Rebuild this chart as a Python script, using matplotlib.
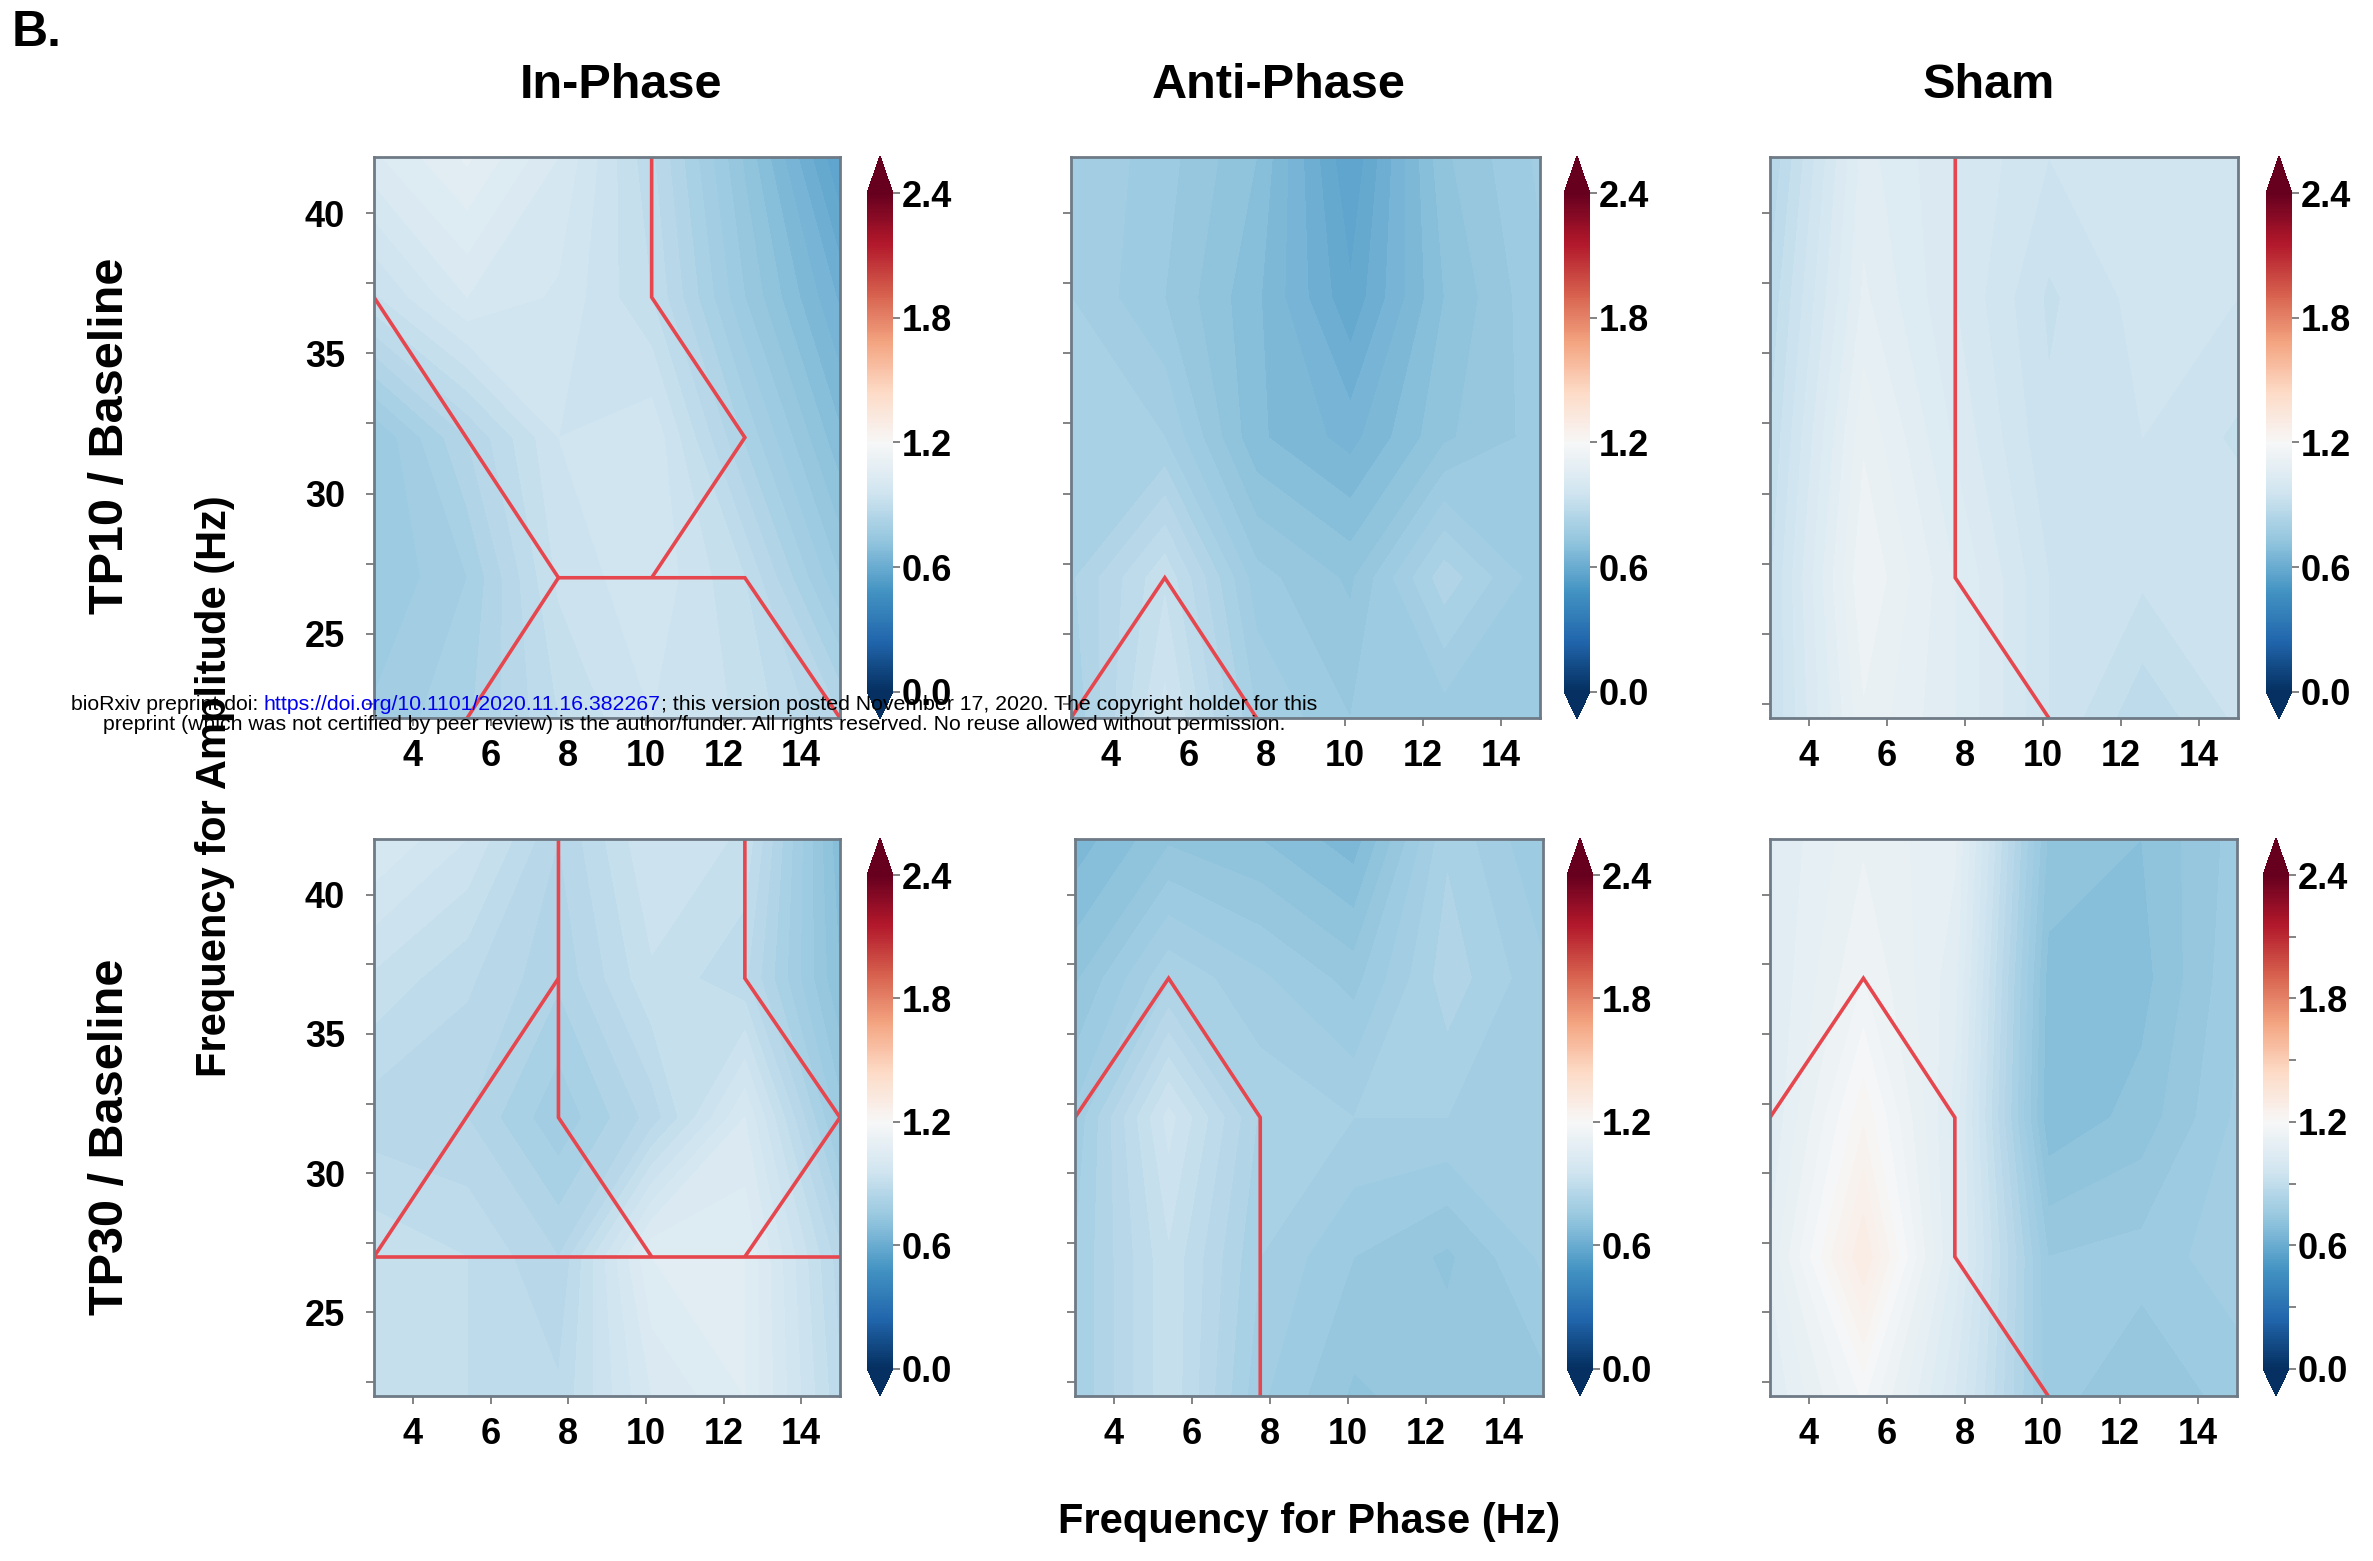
import numpy as np
import matplotlib
matplotlib.use("Agg")
import matplotlib.pyplot as plt
from matplotlib.cm import ScalarMappable
from matplotlib.colors import Normalize
from matplotlib.ticker import MultipleLocator, FormatStrFormatter

plt.rcParams['font.family'] = ['Liberation Sans', 'DejaVu Sans']
plt.rcParams['font.weight'] = 'bold'

# ---------------- data ----------------
phase_freqs = [3, 5.4, 7.75, 10.15, 12.55, 15]
amp_freqs = [22, 27, 32, 37, 42]

col_titles = ["In-Phase", "Anti-Phase", "Sham"]
row_titles = ["TP10 / Baseline", "TP30 / Baseline"]

# rows follow amp_freqs (22 -> 42), columns follow phase_freqs
in_phase_tp10 = [
    [0.78, 0.82, 0.90, 0.95, 0.92, 0.85],
    [0.75, 0.80, 0.93, 0.97, 0.90, 0.75],
    [0.75, 0.85, 0.95, 0.97, 0.82, 0.68],
    [0.92, 1.00, 0.97, 0.90, 0.75, 0.62],
    [1.02, 1.08, 1.00, 0.88, 0.72, 0.55],
]
anti_phase_tp10 = [
    [0.80, 0.96, 0.80, 0.75, 0.76, 0.76],
    [0.82, 0.92, 0.76, 0.72, 0.84, 0.76],
    [0.80, 0.80, 0.68, 0.64, 0.72, 0.76],
    [0.80, 0.75, 0.68, 0.58, 0.70, 0.77],
    [0.80, 0.76, 0.70, 0.55, 0.72, 0.78],
]
sham_tp10 = [
    [0.92, 1.12, 1.05, 0.95, 0.88, 0.93],
    [0.92, 1.15, 1.05, 0.95, 0.93, 0.95],
    [0.90, 1.12, 1.02, 0.93, 0.95, 0.92],
    [0.88, 1.08, 1.00, 0.92, 0.96, 0.95],
    [0.85, 1.06, 1.00, 0.95, 0.96, 0.96],
]
in_phase_tp30 = [
    [0.92, 0.90, 0.88, 1.00, 1.05, 0.88],
    [0.92, 0.90, 0.85, 1.05, 1.05, 0.86],
    [0.86, 0.85, 0.78, 0.86, 1.00, 0.76],
    [0.92, 0.88, 0.83, 0.92, 0.88, 0.70],
    [1.00, 0.95, 0.85, 0.95, 0.92, 0.68],
]
anti_phase_tp30 = [
    [0.80, 0.92, 0.78, 0.72, 0.74, 0.74],
    [0.80, 0.92, 0.80, 0.75, 0.72, 0.78],
    [0.78, 0.96, 0.82, 0.80, 0.80, 0.78],
    [0.72, 0.82, 0.78, 0.74, 0.84, 0.78],
    [0.66, 0.72, 0.70, 0.66, 0.82, 0.75],
]
sham_tp30 = [
    [1.05, 1.18, 1.00, 0.76, 0.73, 0.76],
    [1.08, 1.30, 1.04, 0.75, 0.76, 0.79],
    [1.05, 1.22, 1.04, 0.68, 0.71, 0.78],
    [1.05, 1.15, 1.06, 0.69, 0.69, 0.77],
    [1.05, 1.12, 1.08, 0.72, 0.70, 0.76],
]

# significance cluster outlines (x = phase Hz, y = amplitude Hz)
outline_in_tp10 = [
    [(3, 37), (7.75, 27), (12.55, 27), (15, 22)],
    [(7.75, 27), (5.4, 22)],
    [(10.15, 42), (10.15, 37), (12.55, 32), (10.15, 27)],
]
outline_anti_tp10 = [
    [(3, 22), (5.4, 27), (7.75, 22)],
]
outline_sham_tp10 = [
    [(7.75, 42), (7.75, 27), (10.15, 22)],
]
outline_in_tp30 = [
    [(3, 27), (15, 27)],
    [(3, 27), (7.75, 37)],
    [(7.75, 42), (7.75, 32), (10.15, 27)],
    [(12.55, 42), (12.55, 37), (15, 32), (12.55, 27)],
]
outline_anti_tp30 = [
    [(3, 32), (5.4, 37), (7.75, 32), (7.75, 22)],
]
outline_sham_tp30 = [
    [(3, 32), (5.4, 37), (7.75, 32), (7.75, 27), (10.15, 22)],
]

panels = [[in_phase_tp10, anti_phase_tp10, sham_tp10],
          [in_phase_tp30, anti_phase_tp30, sham_tp30]]
outlines = [[outline_in_tp10, outline_anti_tp10, outline_sham_tp10],
            [outline_in_tp30, outline_anti_tp30, outline_sham_tp30]]

cbar_ticks = [0.0, 0.6, 1.2, 1.8, 2.4]
x_ticks = [4, 6, 8, 10, 12, 14]
y_ticks = [25, 30, 35, 40]

wm_a = "bioRxiv preprint doi:"
wm_url = "https://doi.org/10.1101/2020.11.16.382267"
wm_b = "; this version posted November 17, 2020. The copyright holder for this"
wm_line2 = "preprint (which was not certified by peer review) is the author/funder. All rights reserved. No reuse allowed without permission."

# ---------------- layout ----------------
W, H = 2373, 1561
fig = plt.figure(figsize=(W / 100, H / 100), dpi=100)


def rect(l, t, r, b):
    return [l / W, 1 - b / H, (r - l) / W, (b - t) / H]


axes_px = [[(374, 157, 840, 718), (1071, 157, 1540, 718), (1770, 157, 2238, 718)],
           [(374, 839, 840, 1396), (1075, 839, 1543, 1396), (1770, 839, 2237, 1396)]]
cbar_px = [[(867, 156, 893, 719), (1564, 156, 1590, 719), (2266, 156, 2292, 719)],
           [(867, 838, 893, 1396), (1567, 838, 1593, 1396), (2263, 838, 2289, 1396)]]

cmap = plt.get_cmap('RdBu_r')
norm = Normalize(vmin=0, vmax=2.4)
levels = np.linspace(0, 2.4, 97)
X, Y = np.meshgrid(phase_freqs, amp_freqs)
spine_col = '#6e7a86'
tick_col = '#7a7a7a'
red = '#e6464e'

for r in range(2):
    for c in range(3):
        ax = fig.add_axes(rect(*axes_px[r][c]))
        Z = np.array(panels[r][c])
        ax.contourf(X, Y, Z, levels=levels, cmap=cmap, norm=norm, extend='both')
        for seg in outlines[r][c]:
            xs = [p[0] for p in seg]
            ys = [p[1] for p in seg]
            ax.plot(xs, ys, color=red, lw=2.6, solid_joinstyle='miter',
                    solid_capstyle='butt', clip_on=True)
        ax.set_xlim(3, 15)
        ax.set_ylim(22, 42)
        ax.set_xticks(x_ticks)
        ax.set_yticks(y_ticks)
        ax.yaxis.set_minor_locator(MultipleLocator(2.5))
        for s in ax.spines.values():
            s.set_color(spine_col)
            s.set_linewidth(2.0)
        ax.tick_params(axis='x', which='major', length=6, width=1.3, color=tick_col,
                       labelsize=26, pad=9)
        ax.tick_params(axis='y', which='both', length=6, width=1.3, color=tick_col,
                       labelsize=26, pad=15)
        if c != 0:
            ax.set_yticklabels([])

        cax = fig.add_axes(rect(*cbar_px[r][c]))
        sm = ScalarMappable(norm=norm, cmap=cmap)
        cb = fig.colorbar(sm, cax=cax, extend='both', extendfrac=[0.055, 0.075],
                          ticks=cbar_ticks)
        cb.outline.set_visible(False)
        cb.ax.yaxis.set_minor_locator(MultipleLocator(0.3))
        cb.ax.yaxis.set_major_formatter(FormatStrFormatter('%.1f'))
        cb.ax.tick_params(which='both', length=5, width=1.3, color=tick_col,
                          labelsize=26, pad=1)

# ---------------- texts ----------------
fig.text(12 / W, 1 - 10 / H, "B.", ha='left', va='top', fontsize=36)

title_x = [621, 1279, 1989]
for tx, t in zip(title_x, col_titles):
    fig.text(tx / W, 1 - 85 / H, t, ha='center', va='center', fontsize=35)

for ry, t in zip([436, 1137], row_titles):
    fig.text(110 / W, 1 - ry / H, t, ha='center', va='center', rotation=90, fontsize=35)

fig.text(215 / W, 1 - 786 / H, "Frequency for Amplitude (Hz)", ha='center', va='center',
         rotation=90, fontsize=30)
fig.text(1309 / W, 1 - 1522 / H, "Frequency for Phase (Hz)", ha='center', va='center',
         fontsize=30)

# watermark (two lines, url in blue)
renderer = fig.canvas.get_renderer()
wm_fs = 14
probe = fig.text(0, 0, wm_a + " " + wm_url + wm_b, fontsize=wm_fs, fontweight='normal')
full_w = probe.get_window_extent(renderer).width
probe.remove()
wm_fs = wm_fs * 1253.0 / full_w

cx = 694
y1 = 1 - 704 / H
y2 = 1 - 725 / H
pa = fig.text(0, y1, wm_a, fontsize=wm_fs, fontweight='normal', color='black', va='center')
pu = fig.text(0, y1, wm_url, fontsize=wm_fs, fontweight='normal', color='#0000ee', va='center')
pb = fig.text(0, y1, wm_b, fontsize=wm_fs, fontweight='normal', color='black', va='center')
t_aa = fig.text(0, 0, "aa", fontsize=wm_fs, fontweight='normal')
t_a_a = fig.text(0, 0, "a a", fontsize=wm_fs, fontweight='normal')
space_w = t_a_a.get_window_extent(renderer).width - t_aa.get_window_extent(renderer).width
t_aa.remove()
t_a_a.remove()
wa = pa.get_window_extent(renderer).width
wu = pu.get_window_extent(renderer).width
wb = pb.get_window_extent(renderer).width
total = wa + space_w + wu + wb
x0 = cx - total / 2
pa.set_x(x0 / W)
pu.set_x((x0 + wa + space_w) / W)
pb.set_x((x0 + wa + space_w + wu) / W)
fig.text(cx / W, y2, wm_line2, fontsize=wm_fs, fontweight='normal', color='black',
         ha='center', va='center')

fig.savefig("out.png", dpi=100)
